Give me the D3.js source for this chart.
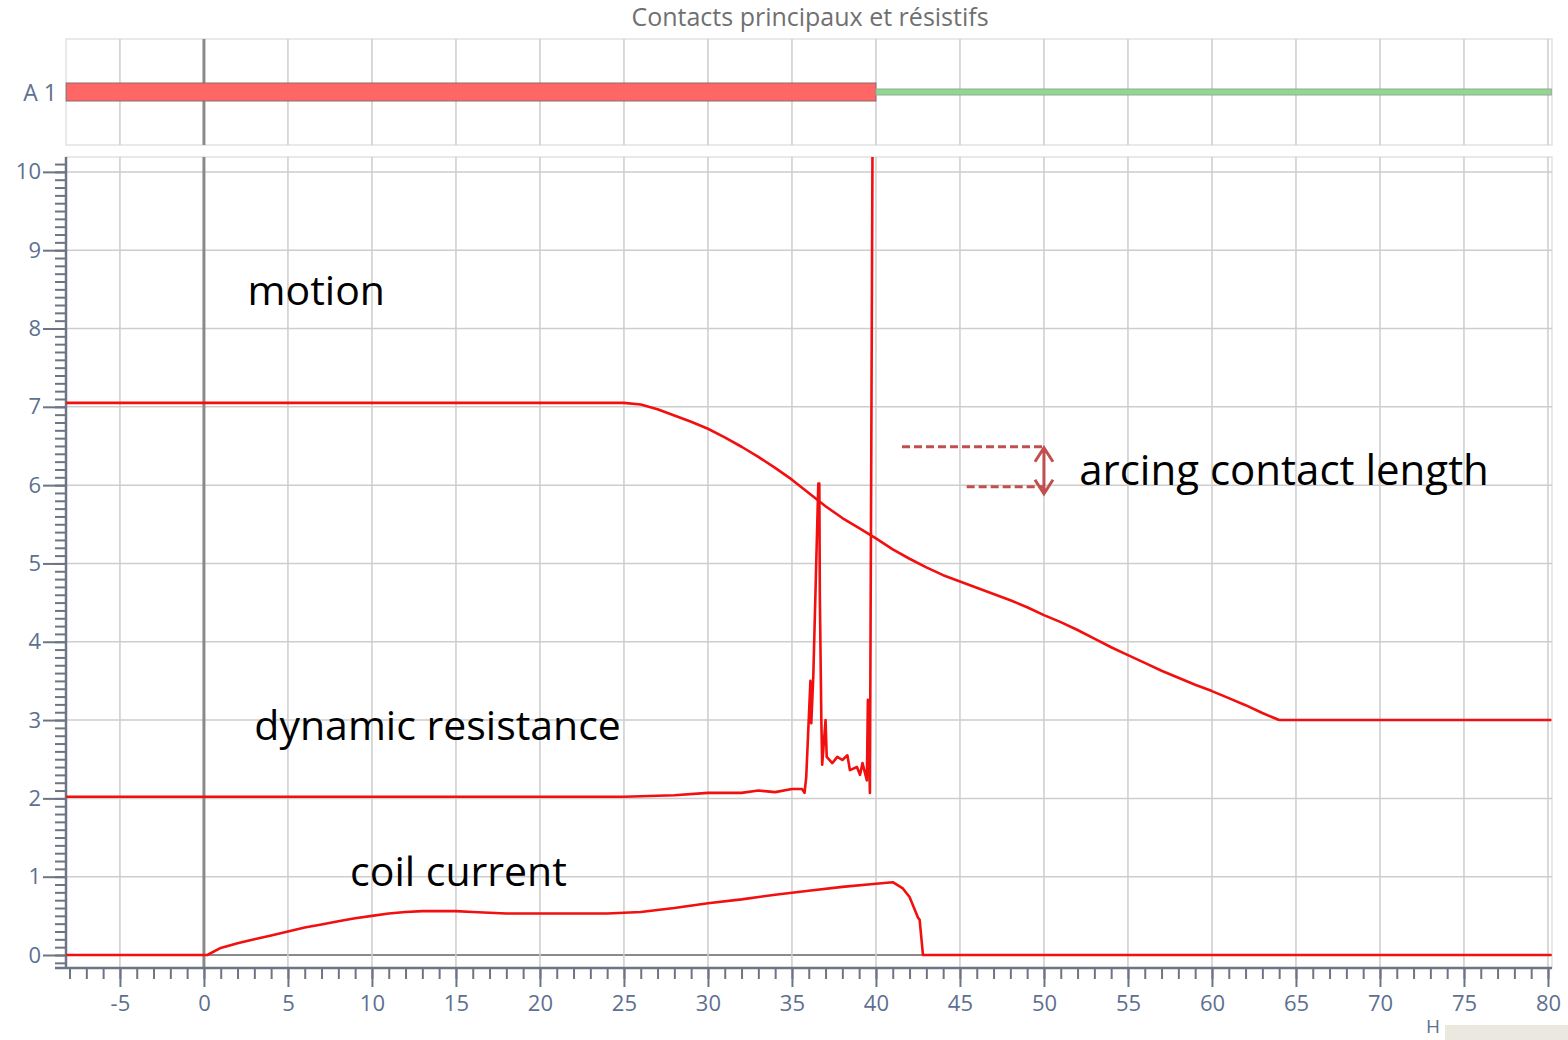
<!DOCTYPE html>
<html>
<head>
<meta charset="utf-8">
<script src="https://cdn.jsdelivr.net/npm/d3@7"></script>
<style>
  html, body { margin: 0; padding: 0; background: #fff; }
  svg { display: block; font-family: "Open Sans", "Noto Sans", sans-serif; }
</style>
</head>
<body>
<svg id="chart" width="1568" height="1040"></svg>
<script>
/*** DATA ***/
const chartTitle = 'Contacts principaux et résistifs';
const xTicks = [-5, 0, 5, 10, 15, 20, 25, 30, 35, 40, 45, 50, 55, 60, 65, 70, 75, 80];
const yTicks = [0, 1, 2, 3, 4, 5, 6, 7, 8, 9, 10];

// state bar "A 1": open (red) then closed (green)
const stateLabel = 'A 1';
const stateSegments = [
  {from: -8.2, to: 40.0, kind: 'open'},
  {from: 40.0, to: 80.2, kind: 'closed'}
];

// motion (travel) curve
const motion = [
  [-8.2, 7.05], [25, 7.05], [26, 7.03], [27, 6.97], [28, 6.89], [29, 6.81], [30, 6.72],
  [31, 6.61], [32, 6.49], [33, 6.36], [34, 6.22], [35, 6.07], [36, 5.90], [37, 5.73],
  [38, 5.58], [39, 5.45], [40, 5.32], [41, 5.18], [42, 5.06], [43, 4.95], [44, 4.85],
  [45, 4.77], [46, 4.69], [47, 4.61], [48, 4.53], [49, 4.44], [50, 4.34], [51, 4.25],
  [52, 4.15], [53, 4.04], [54, 3.93], [55, 3.83], [56, 3.73], [57, 3.63], [58, 3.54],
  [59, 3.45], [60, 3.37], [61, 3.28], [62, 3.19], [63, 3.09], [64, 3.0], [80.2, 3.0]
];

// dynamic resistance curve
const dynResistance = [
  [-8.2, 2.02], [25, 2.02], [28, 2.04], [30, 2.07], [32, 2.07], [33, 2.10], [34, 2.08],
  [35, 2.12], [35.6, 2.12], [35.75, 2.07], [35.85, 2.27], [36.1, 3.5], [36.15, 2.96],
  [36.27, 3.55], [36.45, 5.04], [36.57, 6.02], [36.63, 6.02], [36.66, 4.6], [36.75, 3.0],
  [36.8, 2.43], [37.0, 3.0], [37.07, 2.53], [37.4, 2.45], [37.7, 2.53], [38.0, 2.49],
  [38.3, 2.55], [38.45, 2.36], [38.87, 2.40], [39.05, 2.30], [39.2, 2.45], [39.46, 2.23],
  [39.52, 3.26], [39.64, 2.07], [39.8, 10.6]
];

// coil current curve
const coilCurrent = [
  [-8.2, 0], [0.2, 0], [1, 0.09], [2, 0.15], [3, 0.20], [4, 0.25], [5, 0.30], [6, 0.35],
  [7, 0.39], [8, 0.43], [9, 0.47], [10, 0.50], [11, 0.53], [12, 0.55], [13, 0.56],
  [14, 0.56], [15, 0.56], [16, 0.55], [17, 0.54], [18, 0.53], [20, 0.53], [22, 0.53],
  [24, 0.53], [25, 0.54], [26, 0.55], [28, 0.60], [30, 0.66], [32, 0.71], [34, 0.77],
  [36, 0.82], [38, 0.87], [40, 0.91], [41, 0.93], [41.6, 0.85], [42, 0.74], [42.5, 0.48],
  [42.6, 0.45], [42.8, 0], [80.2, 0]
];

// text labels on the plot: [text, x, y(baseline)]
const curveLabels = [
  ['motion', 2.6, 8.3],
  ['dynamic resistance', 3.0, 2.74],
  ['coil current', 8.7, 0.88],
  ['arcing contact length', 52.1, 6.0]
];

// arcing contact length markers
const arcLevels = [
  {from: 41.55, y: 6.49},
  {from: 45.4, y: 5.98}
];
const arcAt = 50;

/*** LAYOUT ***/
const W = 1568, H = 1040;
const main = {left: 66, right: 1552, top: 157, bottom: 968};
const strip = {top: 39, bottom: 145};
const red = '#f20f0f';
const gridColor = '#cdcdcd';
const axisColor = '#6b7585';
const labelColor = '#5d7090';
const fmt = d => String(d);   // plain hyphen for negatives

const svg = d3.select('#chart');

const x = d3.scaleLinear().domain([-8.21, 80.24]).range([main.left, main.right]);
const y = d3.scaleLinear().domain([-0.166, 10.19]).range([main.bottom, main.top]);

// title
svg.append('text')
  .attr('x', 810).attr('y', 26)
  .attr('text-anchor', 'middle')
  .attr('font-size', 25)
  .attr('fill', '#707070')
  .text(chartTitle);

/*** STATE STRIP ***/
const stripG = svg.append('g');
stripG.append('rect')
  .attr('x', main.left).attr('y', strip.top)
  .attr('width', main.right - main.left).attr('height', strip.bottom - strip.top)
  .attr('fill', '#fff').attr('stroke', '#e2e2e2').attr('stroke-width', 1.5);

stripG.selectAll('line.vgrid')
  .data(xTicks)
  .enter().append('line')
    .attr('x1', d => x(d)).attr('x2', d => x(d))
    .attr('y1', strip.top).attr('y2', strip.bottom)
    .attr('stroke', d => d === 0 ? '#8a8a8a' : gridColor)
    .attr('stroke-width', d => d === 0 ? 3 : 1.5);

const barMid = 92;
stripG.selectAll('rect.seg')
  .data(stateSegments)
  .enter().append('rect')
    .attr('x', d => x(d.from))
    .attr('width', d => x(d.to) - x(d.from))
    .attr('y', d => d.kind === 'open' ? barMid - 9 : barMid - 3)
    .attr('height', d => d.kind === 'open' ? 18 : 6)
    .attr('fill', d => d.kind === 'open' ? '#ff6666' : '#90d890')
    .attr('stroke', d => d.kind === 'open' ? '#8a6a6a' : '#9aa89a')
    .attr('stroke-width', 1);

stripG.append('text')
  .attr('x', 57).attr('y', 101)
  .attr('text-anchor', 'end')
  .attr('font-size', 23)
  .attr('fill', labelColor)
  .text(stateLabel);

/*** MAIN PANEL ***/
const g = svg.append('g');

g.append('rect')
  .attr('x', main.left).attr('y', main.top)
  .attr('width', main.right - main.left).attr('height', main.bottom - main.top)
  .attr('fill', '#fff').attr('stroke', '#e2e2e2').attr('stroke-width', 1.5);

// grid
g.selectAll('line.hgrid')
  .data(yTicks)
  .enter().append('line')
    .attr('x1', main.left).attr('x2', main.right)
    .attr('y1', d => y(d)).attr('y2', d => y(d))
    .attr('stroke', d => d === 0 ? '#8a8a8a' : gridColor)
    .attr('stroke-width', d => d === 0 ? 2 : 1.5);

g.selectAll('line.vgrid')
  .data(xTicks)
  .enter().append('line')
    .attr('x1', d => x(d)).attr('x2', d => x(d))
    .attr('y1', main.top).attr('y2', main.bottom)
    .attr('stroke', d => d === 0 ? '#8a8a8a' : gridColor)
    .attr('stroke-width', d => d === 0 ? 3 : 1.5);

// axes
const yMinor = d3.range(-1, 102).map(i => i / 10).filter(v => v >= y.domain()[0] && v <= y.domain()[1]);
const xMinor = d3.range(-8, 81);

const yAxis = g.append('g').attr('transform', `translate(${main.left},0)`);
yAxis.call(d3.axisLeft(y).tickValues(yMinor).tickSize(11).tickFormat(''))
  .call(a => a.select('.domain').remove());
yAxis.append('g')
  .call(d3.axisLeft(y).tickValues(yTicks).tickSize(23).tickPadding(2).tickFormat(fmt))
  .call(a => a.select('.domain').remove());
yAxis.append('line')
  .attr('x1', 0).attr('x2', 0).attr('y1', main.top).attr('y2', main.bottom + 1);

const xAxis = g.append('g').attr('transform', `translate(0,${main.bottom})`);
xAxis.call(d3.axisBottom(x).tickValues(xMinor).tickSize(11).tickFormat(''))
  .call(a => a.select('.domain').remove());
xAxis.append('g')
  .call(d3.axisBottom(x).tickValues(xTicks).tickSize(19).tickPadding(8).tickFormat(fmt))
  .call(a => a.select('.domain').remove());
xAxis.append('line')
  .attr('x1', main.left - 11).attr('x2', main.right).attr('y1', 0).attr('y2', 0);

svg.selectAll('.tick line').attr('stroke', axisColor).attr('stroke-width', 2);
[yAxis, xAxis].forEach(a => a.selectAll(':scope > line').attr('stroke', axisColor).attr('stroke-width', 2.5));
svg.selectAll('.tick text')
  .attr('fill', labelColor)
  .attr('font-size', 22)
  .attr('font-family', '"Open Sans", "Noto Sans", sans-serif');

// curves
svg.append('clipPath').attr('id', 'plot-clip')
  .append('rect')
    .attr('x', main.left).attr('y', main.top)
    .attr('width', main.right - main.left).attr('height', main.bottom - main.top);

const lineGen = d3.line().x(d => x(d[0])).y(d => y(d[1]));

g.append('g').attr('clip-path', 'url(#plot-clip)')
  .selectAll('path')
  .data([motion, dynResistance, coilCurrent])
  .enter().append('path')
    .attr('fill', 'none')
    .attr('stroke', red)
    .attr('stroke-width', 2.6)
    .attr('stroke-linejoin', 'round')
    .attr('d', lineGen);

// arcing contact length annotation
const arcColor = '#c0504d';
g.selectAll('line.arc')
  .data(arcLevels)
  .enter().append('line')
    .attr('x1', d => x(d.from)).attr('x2', x(arcAt))
    .attr('y1', d => y(d.y)).attr('y2', d => y(d.y))
    .attr('stroke', arcColor)
    .attr('stroke-width', 3)
    .attr('stroke-dasharray', '8,4');

const ax = x(arcAt), ay1 = y(arcLevels[0].y) + 1, ay2 = y(arcLevels[1].y) + 7;
g.append('path')
  .attr('fill', 'none')
  .attr('stroke', arcColor)
  .attr('stroke-width', 3)
  .attr('d', `M${ax},${ay1}L${ax},${ay2}` +
             `M${ax - 9},${ay1 + 14}L${ax},${ay1}L${ax + 9},${ay1 + 14}` +
             `M${ax - 9},${ay2 - 14}L${ax},${ay2}L${ax + 9},${ay2 - 14}`);

// curve labels
g.selectAll('text.lbl')
  .data(curveLabels)
  .enter().append('text')
    .attr('x', d => x(d[1]))
    .attr('y', d => y(d[2]))
    .attr('font-size', d => d[0] === 'arcing contact length' ? 42 : 41)
    .attr('fill', '#000')
    .text(d => d[0]);

// axis unit and corner patch
svg.append('rect')
  .attr('x', 1445).attr('y', 1025).attr('width', W - 1445).attr('height', 15)
  .attr('fill', '#ebe8df');
svg.append('text')
  .attr('x', 1426).attr('y', 1033)
  .attr('font-size', 19)
  .attr('fill', labelColor)
  .text('H');
</script>
</body>
</html>
